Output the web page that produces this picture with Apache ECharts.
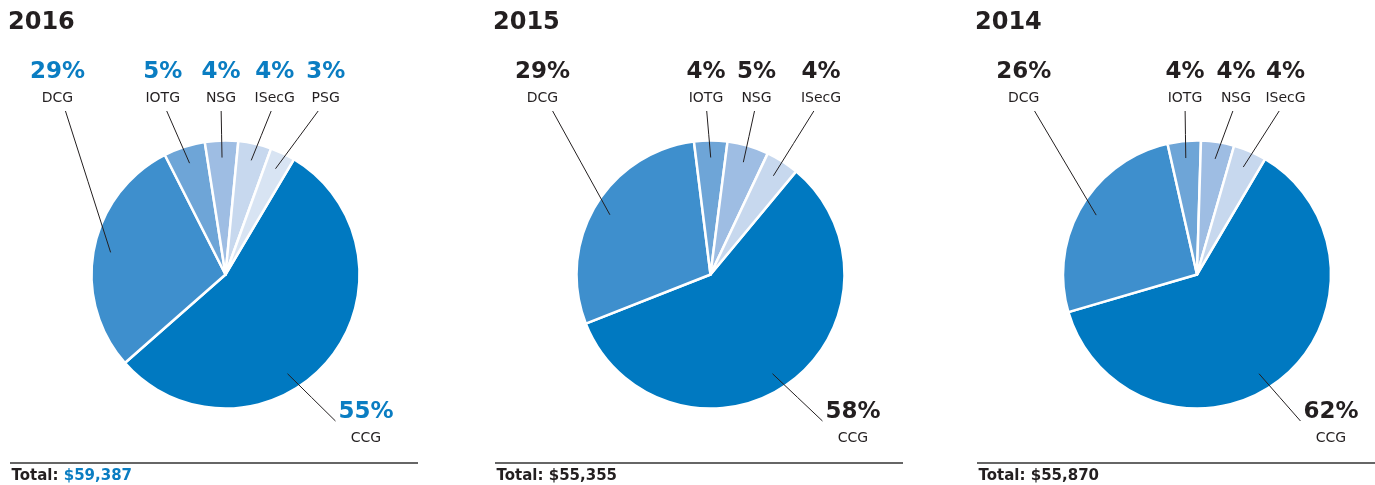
<!DOCTYPE html>
<html>
<head>
<meta charset="utf-8">
<script src="https://cdn.jsdelivr.net/npm/echarts@6/dist/echarts.min.js"></script>
<style>
html, body { margin: 0; padding: 0; background: #fff; }
#chart { width: 1375px; height: 485px; }
</style>
</head>
<body>
<div id="chart"></div>
<script>
// revenue share by operating segment
const years = ['2016', '2015', '2014'];
const segments2016 = ['CCG', 'DCG', 'IOTG', 'NSG', 'ISecG', 'PSG'];
const share2016 = [55, 29, 5, 4, 4, 3];
const segments2015 = ['CCG', 'DCG', 'IOTG', 'NSG', 'ISecG'];
const share2015 = [58, 29, 4, 5, 4];
const segments2014 = ['CCG', 'DCG', 'IOTG', 'NSG', 'ISecG'];
const share2014 = [62, 26, 4, 4, 4];
const totals = ['$59,387', '$55,355', '$55,870'];

const INK = '#231f20';
const BLUE = '#0a7dc2';
const FONT = '"DejaVu Sans", sans-serif';
const sliceColors = {
  CCG: '#0079c1', DCG: '#3e8fcd', IOTG: '#6ea5d7',
  NSG: '#9ebde3', ISecG: '#c7d8ee', PSG: '#d8e4f3'
};

// panel layout
const panels = [
  { segments: segments2016, share: share2016, left: 8, cx: 225.5, start: 59.3, pctColor: BLUE,
    rule: [10, 418], labelX: { CCG: 366, DCG: 57.5, IOTG: 162.7, NSG: 221, ISecG: 274.7, PSG: 325.7 } },
  { segments: segments2015, share: share2015, left: 493, cx: 710.5, start: 50.3, pctColor: INK,
    rule: [495, 903], labelX: { CCG: 853, DCG: 542.5, IOTG: 706, NSG: 756.5, ISecG: 821 } },
  { segments: segments2014, share: share2014, left: 975, cx: 1197, start: 59.5, pctColor: INK,
    rule: [977, 1375], labelX: { CCG: 1331, DCG: 1023.7, IOTG: 1185, NSG: 1236, ISecG: 1285.5 } }
];
const CY = 274.5;
const R = 134;
const TOP_LABEL_Y = 85;
const CCG_LABEL_Y = 425;

// point inside a slice where its leader line starts
function anchorPoint(p, idx) {
  const sum = p.share.reduce((a, b) => a + b, 0);
  let before = 0;
  for (let i = 0; i < idx; i++) before += p.share[i];
  let deg = (90 - p.start) + (before + p.share[idx] / 2) / sum * 360;
  if (p.segments[idx] === 'CCG') deg = 148;
  const rad = deg * Math.PI / 180;
  return [p.cx + 117 * Math.sin(rad), CY - 117 * Math.cos(rad)];
}

const chart = echarts.init(document.getElementById('chart'), null, { renderer: 'canvas' });

const series = [];
panels.forEach(function (p) {
  const items = p.segments.map(function (name, i) {
    return { name: name, value: p.share[i] };
  });
  // visible slices
  series.push({
    type: 'pie',
    z: 2,
    center: [p.cx, CY],
    radius: [0, R],
    startAngle: p.start,
    clockwise: true,
    emphasis: { disabled: true },
    label: { show: false },
    labelLine: { show: false },
    itemStyle: {
      borderColor: '#fff', borderWidth: 2.5,
      color: function (prm) { return sliceColors[prm.name]; }
    },
    data: items
  });
  // same slices, transparent, carrying labels and leader lines on top
  series.push({
    type: 'pie',
    z: 4,
    silent: true,
    center: [p.cx, CY],
    radius: [0, R],
    startAngle: p.start,
    clockwise: true,
    avoidLabelOverlap: false,
    emphasis: { disabled: true },
    itemStyle: { color: 'rgba(0,0,0,0)', borderWidth: 0 },
    data: items,
    label: {
      show: true,
      position: 'outside',
      formatter: function (prm) {
        return '{p|' + prm.value + '%}\n{n|' + prm.name + '}';
      },
      rich: {
        p: { fontFamily: FONT, fontWeight: 'bold', fontSize: 23, lineHeight: 26, color: p.pctColor, align: 'center' },
        n: { fontFamily: FONT, fontSize: 14, lineHeight: 26, color: INK, align: 'center' }
      }
    },
    labelLine: { show: true, showAbove: true, length: 6, length2: 6, lineStyle: { color: INK, width: 1 } },
    labelLayout: function (params) {
      const name = p.segments[params.dataIndex];
      const isCCG = name === 'CCG';
      const x = p.labelX[name];
      const y = isCCG ? CCG_LABEL_Y : TOP_LABEL_Y;
      const s = anchorPoint(p, params.dataIndex);
      const w = params.labelRect ? params.labelRect.width : 56;
      const e = isCCG ? [x - w / 2 - 3, y - 4] : [x + (s[0] - x) * 0.15, y + 26];
      return {
        x: x, y: y, align: 'center', verticalAlign: 'middle',
        labelLinePoints: [s, [(s[0] + e[0]) / 2, (s[1] + e[1]) / 2], e]
      };
    }
  });
});

const graphic = [];
panels.forEach(function (p, i) {
  graphic.push({
    type: 'text', x: p.left, y: 22.5,
    style: { text: years[i], font: 'bold 24px ' + FONT, fill: INK, verticalAlign: 'middle' }
  });
  graphic.push({
    type: 'line',
    shape: { x1: p.rule[0], y1: 463, x2: p.rule[1], y2: 463 },
    style: { stroke: '#333', lineWidth: 1.5 }
  });
  graphic.push({
    type: 'text', x: p.rule[0] + 1.5, y: 476,
    style: {
      text: '{a|Total: }{b|' + totals[i] + '}',
      verticalAlign: 'middle',
      rich: {
        a: { fontFamily: FONT, fontWeight: 'bold', fontSize: 15, fill: INK },
        b: { fontFamily: FONT, fontWeight: 'bold', fontSize: 15, fill: i === 0 ? BLUE : INK }
      }
    }
  });
});

chart.setOption({
  animation: false,
  series: series,
  graphic: graphic
});
</script>
</body>
</html>
